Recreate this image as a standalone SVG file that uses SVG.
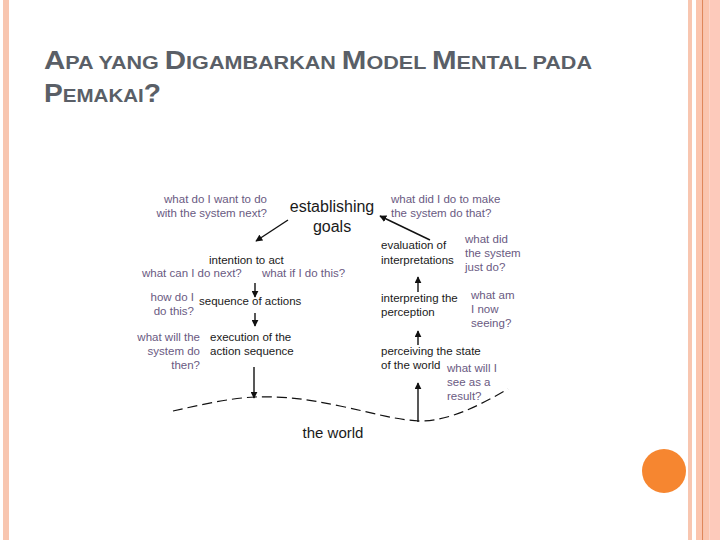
<svg xmlns="http://www.w3.org/2000/svg" width="720" height="540" viewBox="0 0 720 540">
<defs>
<marker id="ah" viewBox="0 0 10 10" refX="9" refY="5" markerWidth="7" markerHeight="7" markerUnits="userSpaceOnUse" orient="auto"><path d="M0,0 L10,5 L0,10 z" fill="#111"/></marker>
<style>
.t{font-family:"Liberation Sans",Arial,sans-serif;fill:#5a5f67;font-weight:bold}
.m{font-family:"Liberation Sans",Arial,sans-serif;font-size:11.5px;fill:#1a1a1a}
.big{font-size:16px}
.w{font-size:15px}
.q{font-family:"Liberation Sans",Arial,sans-serif;font-size:11.5px;fill:#6a5a82}
.c{stroke:#111;stroke-width:1.4;fill:none;marker-end:url(#ah)}
</style>
</defs>
<rect width="720" height="540" fill="#fff"/>
<g id="frame">
<rect x="3" y="0" width="6" height="540" fill="#f8c6b0"/>
<rect x="688" y="0" width="4" height="540" fill="#f8c6b0"/>
<rect x="696" y="0" width="6" height="540" fill="#fbc5ae"/>
<rect x="702" y="0" width="1.5" height="540" fill="#e0875a"/>
<rect x="703.5" y="0" width="6" height="540" fill="#fbc5ae"/>
<rect x="709.5" y="0" width="10.5" height="540" fill="#fdcabb"/>
<circle cx="664" cy="471" r="22" fill="#f68630"/>
</g>
<g id="title">
<text class="t" x="44" y="69" textLength="548" lengthAdjust="spacingAndGlyphs"><tspan font-size="26">A</tspan><tspan font-size="19">PA YANG </tspan><tspan font-size="26">D</tspan><tspan font-size="19">IGAMBARKAN </tspan><tspan font-size="26">M</tspan><tspan font-size="19">ODEL </tspan><tspan font-size="26">M</tspan><tspan font-size="19">ENTAL PADA</tspan></text>
<text class="t" x="44" y="102" textLength="117" lengthAdjust="spacingAndGlyphs"><tspan font-size="26">P</tspan><tspan font-size="19">EMAKAI</tspan><tspan font-size="26">?</tspan></text>
</g>
<g id="connectors">
<line class="c" x1="288" y1="220" x2="256" y2="241"/>
<line class="c" x1="255" y1="283" x2="255" y2="297"/>
<line class="c" x1="255" y1="313" x2="255" y2="326"/>
<line class="c" x1="254" y1="367" x2="254" y2="398"/>
<line class="c" x1="430" y1="240" x2="380" y2="216"/>
<line class="c" x1="418" y1="292" x2="418" y2="277"/>
<line class="c" x1="418" y1="345" x2="418" y2="331"/>
<line class="c" x1="418" y1="422" x2="418" y2="383"/>
<path d="M173,411 C200,405 230,398 255,397 C290,396 310,400 340,406 C370,412 395,420 420,421 C450,421 480,405 508,389" fill="none" stroke="#111" stroke-width="1.2" stroke-dasharray="10,5"/>
</g>
<g id="establishing-goals">
<text class="m big" x="332" y="212" text-anchor="middle">establishing</text>
<text class="m big" x="332" y="232" text-anchor="middle">goals</text>
</g>
<g id="q-want">
<text class="q" x="267" y="203" text-anchor="end">what do I want to do</text>
<text class="q" x="267" y="217" text-anchor="end">with the system next?</text>
</g>
<g id="intention">
<text class="m" x="209" y="264">intention to act</text>
</g>
<g id="q-next">
<text class="q" x="142" y="277">what can I do next?</text>
<text class="q" x="262" y="277">what if I do this?</text>
</g>
<g id="q-how">
<text class="q" x="194" y="301" text-anchor="end">how do I</text>
<text class="q" x="194" y="315" text-anchor="end">do this?</text>
</g>
<g id="sequence">
<text class="m" x="199" y="305">sequence of actions</text>
</g>
<g id="q-willdo">
<text class="q" x="200" y="341" text-anchor="end">what will the</text>
<text class="q" x="200" y="355" text-anchor="end">system do</text>
<text class="q" x="200" y="369" text-anchor="end">then?</text>
</g>
<g id="execution">
<text class="m" x="210" y="341">execution of the</text>
<text class="m" x="210" y="355">action sequence</text>
</g>
<g id="world">
<text class="m w" x="333" y="438" text-anchor="middle">the world</text>
</g>
<g id="q-make">
<text class="q" x="391" y="203">what did I do to make</text>
<text class="q" x="391" y="217">the system do that?</text>
</g>
<g id="evaluation">
<text class="m" x="381" y="249">evaluation of</text>
<text class="m" x="381" y="264">interpretations</text>
</g>
<g id="q-did">
<text class="q" x="465" y="243">what did</text>
<text class="q" x="465" y="257">the system</text>
<text class="q" x="465" y="271">just do?</text>
</g>
<g id="interpreting">
<text class="m" x="381" y="302">interpreting the</text>
<text class="m" x="381" y="316">perception</text>
</g>
<g id="q-seeing">
<text class="q" x="471" y="299">what am</text>
<text class="q" x="471" y="313">I now</text>
<text class="q" x="471" y="327">seeing?</text>
</g>
<g id="perceiving">
<text class="m" x="381" y="355">perceiving the state</text>
<text class="m" x="381" y="369">of the world</text>
</g>
<g id="q-result">
<text class="q" x="447" y="372">what will I</text>
<text class="q" x="447" y="386">see as a</text>
<text class="q" x="447" y="400">result?</text>
</g>
</svg>
